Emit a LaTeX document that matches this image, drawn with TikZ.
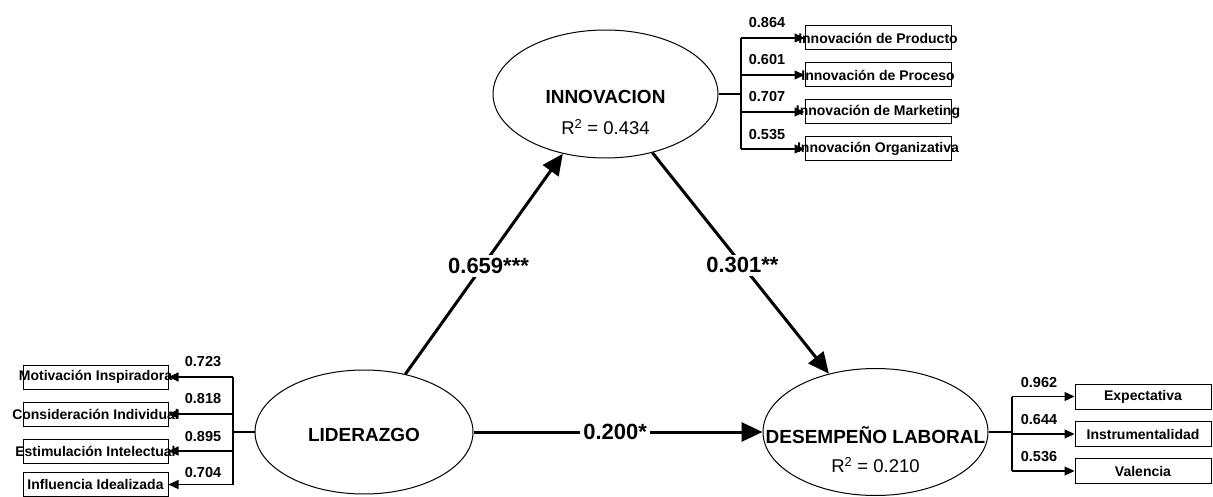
\documentclass[tikz,border=0pt]{standalone}
\usepackage{fontspec}
\setmainfont{Liberation Sans}
\usetikzlibrary{arrows.meta,shapes.geometric}
\begin{document}
\begin{tikzpicture}[x=1pt,y=-1pt,
  latent/.style={draw, ellipse, line width=1pt, inner sep=0pt},
  ind/.style={draw, rectangle, line width=1pt, inner sep=0pt, minimum height=24pt,
    font=\bfseries\fontsize{14}{14}\selectfont},
  nm/.style={font=\bfseries\fontsize{19}{19}\selectfont, inner sep=0pt},
  rsq/.style={font=\fontsize{18.5}{18.5}\selectfont, inner sep=0pt},
  wire/.style={line width=1.1pt},
  load/.style={line width=1.1pt, -{Triangle[length=10pt,width=9pt]}},
  pathar/.style={line width=3pt, -{Triangle[length=21pt,width=19pt]}},
  coef/.style={font=\bfseries\fontsize{22}{22}\selectfont, fill=white, inner sep=3pt},
  lt/.style={font=\bfseries\fontsize{14.5}{14.5}\selectfont, inner sep=0pt}
]
\useasboundingbox (0,0) rectangle (1213,497);

% latent variables
\node[latent, minimum width=225pt, minimum height=128pt] (inn) at (605.5,94) {};
\node[latent, minimum width=218pt, minimum height=124pt] (lid) at (364,432) {};
\node[latent, minimum width=225pt, minimum height=127pt] (des) at (875.5,432) {};

\node[nm] (innT) at (605.5,97) {INNOVACION};
\node[rsq] (innR) at (605.5,127) {R\textsuperscript{2} = 0.434};
\node[nm] (lidT) at (364,435) {LIDERAZGO};
\node[nm] (desT) at (875.5,435) {DESEMPE\~NO LABORAL};
\node[rsq] (desR) at (875.5,465) {R\textsuperscript{2} = 0.210};

% structural paths
\draw[pathar] (lid) -- node[coef, pos=0.49, xshift=6pt] (c1) {0.659***} (inn);
\draw[pathar] (inn) -- node[coef, pos=0.51] (c2) {0.301**} (des);
\draw[pathar] (lid) -- node[coef, pos=0.49] (c3) {0.200*} (des);

% INNOVACION indicators
\foreach \n/\y/\t in {1/38/Innovación de Producto, 2/75/Innovación de Proceso, 3/112/Innovación de Marketing, 4/149/Innovación Organizativa}
  \node[ind, minimum width=146pt] (ip\n) at (878,\y) {\makebox[0pt]{\t}};
\coordinate (ib) at (741,94);
\draw[wire] (inn.east) -- (ib);
\draw[wire] (ib |- ip1) -- (ib |- ip4);
\foreach \n in {1,2,3,4} \draw[load] (ib |- ip\n) -- (ip\n.west);
\node[lt] (il1) at (767,23) {0.864};
\node[lt] (il2) at (767,60) {0.601};
\node[lt] (il3) at (767,97) {0.707};
\node[lt] (il4) at (767,135) {0.535};

% LIDERAZGO indicators
\foreach \n/\y/\t in {1/377/Motivación Inspiradora, 2/414/Consideración Individual, 3/451/Estimulación Intelectual, 4/484.5/Influencia Idealizada}
  \node[ind, minimum width=145pt] (lp\n) at (95.5,\y) {\makebox[0pt]{\t}};
\coordinate (lb) at (233,432);
\draw[wire] (lid.west) -- (lb);
\draw[wire] (lb |- lp1) -- (lb |- lp4);
\foreach \n in {1,2,3,4} \draw[load] (lb |- lp\n) -- (lp\n.east);
\node[lt] (ll1) at (203,362) {0.723};
\node[lt] (ll2) at (203,399) {0.818};
\node[lt] (ll3) at (203,437) {0.895};
\node[lt] (ll4) at (203,473) {0.704};

% DESEMPENO indicators
\foreach \n/\y/\t in {1/396.5/Expectativa, 2/434/Instrumentalidad, 3/471/Valencia}
  \node[ind, minimum width=136pt, minimum height=25pt] (dp\n) at (1143,\y) {\makebox[0pt]{\t}};
\coordinate (db) at (1012,432);
\draw[wire] (des.east) -- (db);
\draw[wire] (db |- dp1) -- (db |- dp3);
\foreach \n in {1,2,3} \draw[load] (db |- dp\n) -- (dp\n.west);
\node[lt] (dl1) at (1039,383) {0.962};
\node[lt] (dl2) at (1039,420) {0.644};
\node[lt] (dl3) at (1039,457) {0.536};
\end{tikzpicture}
\end{document}
